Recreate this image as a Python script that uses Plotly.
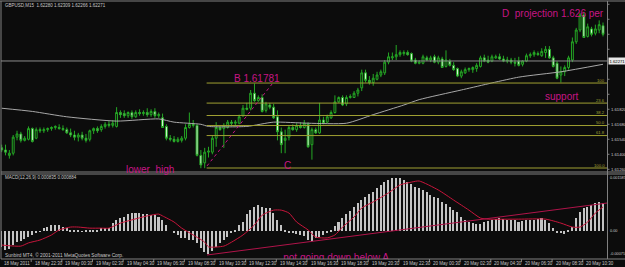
import plotly.graph_objects as go

W, H = 625, 267

# ---------------- data (prices in pips = 1e-4, MACD in 1e-5) ----------------
bar_open = [16146, 16144, 16139, 16141, 16156, 16159, 16153, 16154, 16164, 16155,
            16163, 16162, 16163, 16164, 16165, 16165, 16164, 16163, 16160, 16158,
            16156, 16158, 16155, 16154, 16162, 16164, 16163, 16166, 16168, 16167,
            16166, 16179, 16178, 16176, 16179, 16175, 16179, 16178, 16179, 16177,
            16180, 16176, 16174, 16166, 16155, 16154, 16152, 16153, 16155, 16165,
            16168, 16167, 16139, 16132, 16142, 16142, 16155, 16165, 16164, 16165,
            16170, 16169, 16169, 16176, 16183, 16183, 16197, 16190, 16193, 16181,
            16186, 16184, 16175, 16161, 16153, 16156, 16165, 16163, 16167, 16165,
            16168, 16149, 16163, 16160, 16172, 16170, 16174, 16179, 16189, 16193,
            16187, 16193, 16193, 16197, 16202, 16216, 16209, 16207, 16210, 16214,
            16216, 16226, 16230, 16231, 16233, 16234, 16235, 16234, 16228, 16225,
            16225, 16230, 16228, 16231, 16226, 16229, 16222, 16227, 16223, 16220,
            16213, 16216, 16219, 16219, 16220, 16222, 16230, 16228, 16227, 16230,
            16231, 16229, 16227, 16228, 16226, 16227, 16224, 16227, 16232, 16233,
            16234, 16232, 16235, 16238, 16230, 16225, 16214, 16217, 16221, 16228,
            16245, 16256, 16270, 16250, 16257, 16253, 16256, 16260]
bar_high = [16149, 16149, 16144, 16158, 16162, 16161, 16157, 16166, 16165, 16165,
            16165, 16165, 16165, 16166, 16167, 16168, 16167, 16165, 16164, 16162,
            16160, 16161, 16159, 16163, 16165, 16166, 16168, 16170, 16171, 16172,
            16184, 16181, 16181, 16180, 16181, 16181, 16182, 16181, 16183, 16182,
            16183, 16179, 16178, 16168, 16158, 16157, 16156, 16157, 16168, 16179,
            16172, 16168, 16144, 16146, 16147, 16158, 16170, 16167, 16169, 16172,
            16172, 16172, 16177, 16186, 16188, 16200, 16206, 16195, 16196, 16189,
            16188, 16187, 16181, 16165, 16163, 16167, 16168, 16169, 16170, 16172,
            16170, 16165, 16165, 16188, 16175, 16177, 16181, 16195, 16194, 16195,
            16195, 16196, 16199, 16202, 16219, 16219, 16213, 16215, 16217, 16219,
            16228, 16235, 16235, 16242, 16237, 16237, 16237, 16235, 16230, 16228,
            16233, 16232, 16232, 16233, 16232, 16231, 16237, 16229, 16226, 16221,
            16219, 16221, 16221, 16222, 16225, 16232, 16233, 16232, 16233, 16233,
            16234, 16232, 16231, 16230, 16230, 16231, 16228, 16234, 16235, 16237,
            16236, 16239, 16241, 16241, 16232, 16227, 16222, 16223, 16232, 16249,
            16258, 16272, 16273, 16262, 16259, 16261, 16265, 16263]
bar_low = [16142, 16139, 16136, 16139, 16153, 16151, 16152, 16153, 16151, 16154,
           16160, 16160, 16161, 16162, 16163, 16163, 16162, 16159, 16156, 16153,
           16152, 16153, 16151, 16152, 16159, 16160, 16161, 16164, 16165, 16165,
           16165, 16174, 16174, 16174, 16173, 16174, 16176, 16176, 16175, 16175,
           16174, 16174, 16165, 16153, 16152, 16151, 16151, 16151, 16153, 16164,
           16165, 16138, 16127, 16127, 16137, 16140, 16147, 16162, 16146, 16164,
           16166, 16166, 16168, 16175, 16181, 16181, 16189, 16189, 16179, 16179,
           16182, 16173, 16153, 16141, 16141, 16153, 16162, 16161, 16164, 16164,
           16146, 16135, 16159, 16159, 16168, 16169, 16173, 16178, 16188, 16185,
           16185, 16192, 16193, 16194, 16199, 16207, 16205, 16204, 16209, 16212,
           16214, 16224, 16228, 16228, 16231, 16232, 16232, 16226, 16224, 16224,
           16224, 16227, 16226, 16225, 16224, 16221, 16221, 16222, 16218, 16212,
           16211, 16215, 16217, 16216, 16217, 16221, 16226, 16225, 16226, 16229,
           16228, 16226, 16225, 16224, 16222, 16222, 16222, 16226, 16230, 16231,
           16232, 16231, 16230, 16229, 16221, 16210, 16207, 16213, 16219, 16226,
           16243, 16254, 16249, 16249, 16250, 16251, 16253, 16250]
bar_close = [16144, 16142, 16141, 16156, 16159, 16153, 16155, 16164, 16152, 16163,
             16162, 16163, 16164, 16165, 16166, 16164, 16163, 16160, 16158, 16156,
             16158, 16155, 16153, 16162, 16164, 16162, 16166, 16168, 16167, 16169,
             16179, 16177, 16176, 16179, 16175, 16179, 16178, 16179, 16177, 16180,
             16176, 16177, 16165, 16155, 16154, 16152, 16154, 16155, 16165, 16168,
             16167, 16139, 16130, 16142, 16143, 16155, 16165, 16163, 16167, 16170,
             16169, 16170, 16175, 16183, 16182, 16197, 16190, 16193, 16180, 16187,
             16184, 16174, 16161, 16149, 16155, 16165, 16163, 16167, 16165, 16169,
             16147, 16163, 16160, 16172, 16169, 16175, 16179, 16189, 16193, 16186,
             16193, 16194, 16197, 16200, 16216, 16209, 16207, 16211, 16214, 16217,
             16226, 16231, 16231, 16233, 16235, 16235, 16233, 16227, 16225, 16226,
             16231, 16228, 16230, 16226, 16230, 16221, 16228, 16223, 16219, 16213,
             16217, 16219, 16220, 16221, 16223, 16230, 16227, 16226, 16231, 16231,
             16229, 16227, 16228, 16226, 16225, 16223, 16227, 16232, 16233, 16235,
             16233, 16236, 16238, 16230, 16222, 16211, 16217, 16221, 16230, 16245,
             16256, 16270, 16249, 16259, 16252, 16257, 16261, 16252]

ma_bars = [0, 8, 17, 30, 41, 45, 52, 54, 64, 71, 80, 90, 97, 105, 109, 120, 135, 146, 157]
ma_pips = [16183, 16180, 16175, 16171, 16173, 16170, 16168, 16166, 16166, 16170,
           16169, 16169, 16177, 16186, 16191, 16200, 16212, 16217, 16224]

macd_hist = [-44, -53, -50, -39, -31, -28, -22, -17, -11, -3,
             -2, 8, 11, 17, 17, 17, 11, 8, 3, 3,
             1, -1, 1, 3, 3, 4, 8, 8, 8, 22,
             31, 36, 39, 47, 50, 50, 50, 47, 47, 44,
             44, 39, 31, 17, 0, -6, -11, -19, -19, -25,
             -25, -33, -47, -58, -64, -56, -44, -33, -25, -17,
             -6, 3, 17, 25, 47, 58, 67, 72, 67, 64,
             64, 50, 31, 17, 3, -3, -6, -8, -11, -14,
             -25, -28, -19, -17, -11, -6, 1, 14, 25, 36,
             47, 56, 67, 78, 86, 95, 103, 108, 120, 128,
             136, 142, 147, 147, 147, 142, 136, 131, 122, 120,
             114, 108, 100, 95, 92, 81, 75, 67, 58, 53,
             39, 31, 25, 22, 19, 19, 25, 28, 31, 33,
             36, 33, 31, 31, 31, 25, 28, 31, 31, 31,
             33, 36, 31, 22, 8, -3, -6, -8, 1, 11,
             36, 53, 64, 67, 72, 78, 81, 78]

signal_bars = [0, 5, 7, 10, 13, 15, 18, 20, 23, 26, 28, 31, 34, 38, 41, 42, 45, 47, 50, 53,
               54, 58, 60, 63, 66, 68, 71, 73, 75, 77, 80, 82, 85, 87, 89, 92, 94, 97, 101,
               104, 107, 109, 114, 118, 122, 125, 127, 135, 142, 146, 149, 151, 153, 155, 157]
signal_vals = [-39, -42, -33, -25, -11, 3, 11, 11, 8, 8, 8, 22, 31, 42, 47, 42, 25, 8, -11, -31,
               -44, -42, -31, -11, 17, 44, 58, 58, 50, 25, 3, -17, -19, -11, 11, 39, 64, 81, 106,
               128, 136, 139, 114, 86, 58, 36, 33, 33, 33, 22, 11, 11, 25, 50, 67]

time_labels = ["18 May 2011", "18 May 22:30", "19 May 00:30", "19 May 02:30", "19 May 04:30",
               "19 May 06:30", "19 May 08:30", "19 May 10:30", "19 May 12:30", "19 May 14:30",
               "19 May 16:30", "19 May 18:30", "19 May 20:30", "19 May 22:30", "20 May 00:30",
               "20 May 02:30", "20 May 04:30", "20 May 06:30", "20 May 08:30", "20 May 10:30"]
time_label_bars = [0, 8, 16, 24, 32, 40, 48, 56, 64, 72, 80, 88, 96, 104, 112, 120, 128, 136, 144, 152]

price_ticks = [1.62800, 1.62660, 1.62520, 1.62380, 1.62100, 1.61960, 1.61820,
               1.61680, 1.61540, 1.61400, 1.61260]
bid_price = 1.62271
header_text = "GBPUSD,M15\u00a0\u00a01.62280 1.62309 1.62266 1.62271"
macd_text = "MACD(12,26,9) 0.000835 0.000884"
macd_ticks = [0.001585, 0.0, -0.00075]
macd_tick_text = ["0.001585", "0.00", "-0.00075"]

fib_high = 1.62065
fib_low = 1.61272
fib_ratios = [0.0, 0.236, 0.382, 0.5, 0.618, 1.0]
fib_text = ["100", "23.6", "38.2", "50.0", "61.8", "100.0"]
fib_start_bar = 53.5

dotted_bars = [53.6, 70.6]
dotted_prices = [1.61291, 1.62056]
macd_trend_bars = [53.6, 158.2]
macd_trend_vals = [-0.000667, 0.000780]

# ---------------- geometry ----------------
X_L, X_R = 1.0, 607.5
MAIN_T, MAIN_B = 1.0, 172.0
MACD_T, MACD_B = 174.0, 259.0
X_RANGE = [-0.183, 158.17]
MAIN_RANGE = [1.612347, 1.628307]
MACD_RANGE = [-0.000778, 0.001585]


def px(x):
    return x / W


def py(y):
    return 1 - y / H


BG = "#0c0c0c"
GRID = "#808080"
TXT = "#c8c8c8"
MAG = "#C71585"
GREEN = "#25a825"
OLIVE = "#a0a032"
FONT = "Liberation Sans, Arial, sans-serif"
SMALL = 4.2

n = len(bar_close)
xs = list(range(n))

fig = go.Figure()

fig.add_trace(go.Candlestick(
    x=xs,
    open=[v / 10000 for v in bar_open],
    high=[v / 10000 for v in bar_high],
    low=[v / 10000 for v in bar_low],
    close=[v / 10000 for v in bar_close],
    increasing=dict(line=dict(color=GREEN, width=1), fillcolor=BG),
    decreasing=dict(line=dict(color=GREEN, width=1), fillcolor="#e8ffe8"),
    whiskerwidth=0,
    xaxis="x", yaxis="y", hoverinfo="skip",
))

fig.add_trace(go.Scatter(
    x=ma_bars, y=[v / 10000 for v in ma_pips], mode="lines",
    line=dict(color="#a8a8a8", width=1, shape="spline", smoothing=0.6),
    xaxis="x", yaxis="y", hoverinfo="skip",
))

# fibonacci levels
for r, t in zip(fib_ratios, fib_text):
    lvl = fib_high - r * (fib_high - fib_low)
    fig.add_trace(go.Scatter(
        x=[fib_start_bar, X_RANGE[1]], y=[lvl, lvl], mode="lines",
        line=dict(color=OLIVE, width=1), xaxis="x", yaxis="y", hoverinfo="skip",
    ))
    fig.add_annotation(x=px(606.5), y=lvl, xref="paper", yref="y", text=t,
                       showarrow=False, xanchor="right", yanchor="middle", yshift=3,
                       font=dict(size=SMALL, color=OLIVE, family=FONT))

fig.add_trace(go.Scatter(
    x=dotted_bars, y=dotted_prices, mode="lines",
    line=dict(color=MAG, width=1, dash="dot"),
    xaxis="x", yaxis="y", hoverinfo="skip",
))

# MACD panel
fig.add_trace(go.Bar(
    x=xs, y=[v / 100000 for v in macd_hist], width=0.4,
    marker=dict(color="#c4c4c4", line=dict(width=0)),
    xaxis="x2", yaxis="y2", hoverinfo="skip",
))
fig.add_trace(go.Scatter(
    x=signal_bars, y=[v / 100000 for v in signal_vals], mode="lines",
    line=dict(color="#c8163c", width=1, shape="spline", smoothing=0.6),
    xaxis="x2", yaxis="y2", hoverinfo="skip",
))
fig.add_trace(go.Scatter(
    x=macd_trend_bars, y=macd_trend_vals, mode="lines",
    line=dict(color="#b0144a", width=1),
    xaxis="x2", yaxis="y2", hoverinfo="skip",
))
fig.add_trace(go.Scatter(
    x=[87.3], y=[-0.000756], mode="text", text=["not going down below A"],
    textfont=dict(size=10, color=MAG, family=FONT), cliponaxis=True,
    xaxis="x2", yaxis="y2", hoverinfo="skip",
))

shapes = []
line_style = dict(color=GRID, width=1)
# borders
shapes.append(dict(type="line", xref="paper", yref="paper", x0=0, x1=1, y0=py(1), y1=py(1), line=line_style))
shapes.append(dict(type="line", xref="paper", yref="paper", x0=px(X_L), x1=px(X_L), y0=py(1), y1=py(MACD_B), line=line_style))
shapes.append(dict(type="line", xref="paper", yref="paper", x0=px(X_R), x1=px(X_R), y0=py(1), y1=py(MACD_B), line=line_style))
shapes.append(dict(type="line", xref="paper", yref="paper", x0=px(X_L), x1=1, y0=py(MAIN_B), y1=py(MAIN_B), line=line_style))
shapes.append(dict(type="line", xref="paper", yref="paper", x0=px(X_L), x1=1, y0=py(MACD_T), y1=py(MACD_T), line=line_style))
shapes.append(dict(type="line", xref="paper", yref="paper", x0=px(X_L), x1=1, y0=py(MACD_B), y1=py(MACD_B), line=line_style))
# bid line
shapes.append(dict(type="line", xref="paper", yref="y", x0=px(X_L), x1=px(X_R), y0=bid_price, y1=bid_price,
                   line=dict(color="#8c8c8c", width=1)))

annotations = []
# price labels
for v in price_ticks:
    annotations.append(dict(x=px(608.6), y=v, xref="paper", yref="y", text=f"{v:.5f}",
                            showarrow=False, xanchor="left", yanchor="middle",
                            font=dict(size=SMALL, color=TXT, family=FONT)))
    shapes.append(dict(type="line", xref="paper", yref="y", x0=px(X_R), x1=px(X_R + 2), y0=v, y1=v,
                       line=dict(color=GRID, width=1)))
annotations.append(dict(x=px(608.3), y=bid_price, xref="paper", yref="y", text=f"{bid_price:.5f}",
                        showarrow=False, xanchor="left", yanchor="middle", bgcolor="#e6e6e6",
                        borderpad=0.5, font=dict(size=SMALL, color="#000000", family=FONT)))
# macd labels
for v, t, anc in zip(macd_ticks, macd_tick_text, ["top", "middle", "bottom"]):
    annotations.append(dict(x=px(608.4), y=v, xref="paper", yref="y2", text=t,
                            showarrow=False, xanchor="left", yanchor=anc,
                            font=dict(size=3.8, color=TXT, family=FONT)))
# time labels
for b, t in zip(time_label_bars, time_labels):
    annotations.append(dict(x=b, y=py(263.3), xref="x2", yref="paper", text=t,
                            showarrow=False, xanchor="left", yanchor="middle", xshift=0.5,
                            font=dict(size=4.5, color=TXT, family=FONT)))
    shapes.append(dict(type="line", xref="x2", yref="paper", x0=b - 0.3, x1=b - 0.3,
                       y0=py(MACD_B), y1=py(MACD_B + 3), line=dict(color=GRID, width=1)))

# header / info texts
annotations.append(dict(x=px(3), y=py(5), xref="paper", yref="paper", text=header_text,
                        showarrow=False, xanchor="left", yanchor="middle",
                        font=dict(size=4.5, color=TXT, family=FONT)))
annotations.append(dict(x=px(3), y=py(177.5), xref="paper", yref="paper", text=macd_text,
                        showarrow=False, xanchor="left", yanchor="middle",
                        font=dict(size=4.5, color=TXT, family=FONT)))
annotations.append(dict(x=px(3), y=py(255), xref="paper", yref="paper",
                        text="Sunbird MT4, \u00a9 2001-2011 MetaQuotes Software Corp.",
                        showarrow=False, xanchor="left", yanchor="middle",
                        font=dict(size=4.8, color=TXT, family=FONT)))

# magenta notes
notes = [
    ("D\u00a0\u00a0projection 1.626 per", 552.5, 13.5),
    ("B 1.61781", 257, 78),
    ("support", 561.5, 96),
    ("lower\u00a0\u00a0high", 150, 169),
    ("C", 287, 165),
]
for t, x, y in notes:
    annotations.append(dict(x=px(x), y=py(y), xref="paper", yref="paper", text=t,
                            showarrow=False, xanchor="center", yanchor="middle",
                            font=dict(size=10, color=MAG, family=FONT)))

fig.update_layout(
    width=W, height=H,
    margin=dict(l=0, r=0, t=0, b=0),
    paper_bgcolor=BG, plot_bgcolor=BG,
    showlegend=False, hovermode=False,
    bargap=0, boxgap=0.3,
    xaxis=dict(domain=[px(X_L), px(X_R)], range=X_RANGE, anchor="y", showgrid=False,
               zeroline=False, showticklabels=False, showline=False, ticks="",
               rangeslider=dict(visible=False), fixedrange=True),
    xaxis2=dict(domain=[px(X_L), px(X_R)], range=X_RANGE, anchor="y2", showgrid=False,
                zeroline=False, showticklabels=False, showline=False, ticks="", fixedrange=True),
    yaxis=dict(domain=[py(MAIN_B), py(MAIN_T)], range=MAIN_RANGE, anchor="x", showgrid=False,
               zeroline=False, showticklabels=False, showline=False, ticks="", fixedrange=True),
    yaxis2=dict(domain=[py(MACD_B), py(MACD_T)], range=MACD_RANGE, anchor="x2", showgrid=False,
                zeroline=False, showticklabels=False, showline=False, ticks="", fixedrange=True),
    shapes=shapes,
    annotations=annotations,
)

fig.write_html("out.html")
